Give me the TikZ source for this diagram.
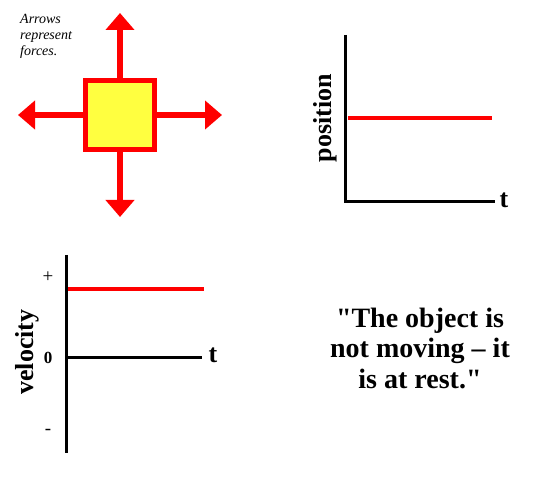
\documentclass[tikz,border=0pt]{standalone}
\usepackage{fontspec}
\setmainfont{Liberation Serif}
\usetikzlibrary{arrows.meta}

\begin{document}
\begin{tikzpicture}[x=1pt,y=1pt,yscale=-1,xscale=1]

\definecolor{myred}{rgb}{1, 0, 0}
\definecolor{myyellow}{rgb}{1, 1, 0.25}

\tikzset{
  force/.style={myred, line width=6pt, -{Triangle[width=28pt,length=17pt]}},
  axis/.style={black, line width=3pt},
  graphline/.style={myred, line width=4pt},
  axislabel/.style={font=\fontsize{26}{30}\selectfont\bfseries},
  ticklabel/.style={font=\fontsize{19}{19}\selectfont}
}

\useasboundingbox (0,0) rectangle (536,481);

% object with the four forces
\node[draw=myred, line width=5pt, fill=myyellow, minimum size=69pt, inner sep=0pt] (obj) at (120,115) {};
\coordinate (upTip) at (120,13);
\coordinate (downTip) at (120,217);
\coordinate (leftTip) at (18,115);
\coordinate (rightTip) at (222,115);
\draw[force] (obj.north) -- (upTip);
\draw[force] (obj.south) -- (downTip);
\draw[force] (obj.west) -- (leftTip);
\draw[force] (obj.east) -- (rightTip);

\node[anchor=north west, align=left, font=\itshape\fontsize{14}{16}\selectfont, inner sep=0pt] (note) at (20,14) {Arrows\\represent\\forces.};

% position graph
\coordinate (posTop) at (345,35);
\coordinate (posOrigin) at (345,202);
\coordinate (posEnd) at (495,202);
\draw[axis] (posTop) -- (posOrigin) -- (posEnd);
\coordinate (posStart) at (348,118);
\coordinate (posStop) at (492,118);
\draw[graphline] (posStart) -- (posStop);
\node[axislabel] (posT) at (504,200) {t};
\node[axislabel, rotate=90] (posLabel) at (325,118) {position};

% velocity graph
\coordinate (velTop) at (66,255);
\coordinate (velBottom) at (66,453);
\coordinate (velZero) at (66,358);
\coordinate (velEnd) at (202,358);
\draw[axis] (velTop) -- (velBottom);
\draw[axis] (velZero) -- (velEnd);
\coordinate (velStart) at (68,289);
\coordinate (velStop) at (204,289);
\draw[graphline] (velStart) -- (velStop);
\node[axislabel] (velT) at (213,355) {t};
\node[axislabel, rotate=90] (velLabel) at (27,352) {velocity};
\node[ticklabel] (plus) at (48,277) {+};
\node[ticklabel, font=\fontsize{17}{17}\selectfont\bfseries] (zero) at (48,358) {0};
\node[ticklabel] (minus) at (48,432) {-};

% statement
\node[align=center, font=\fontsize{28}{30.5}\selectfont\bfseries] (rest) at (420,348) {\textquotedbl The object is\\not moving -- it\\is at rest.\textquotedbl};

\end{tikzpicture}
\end{document}
